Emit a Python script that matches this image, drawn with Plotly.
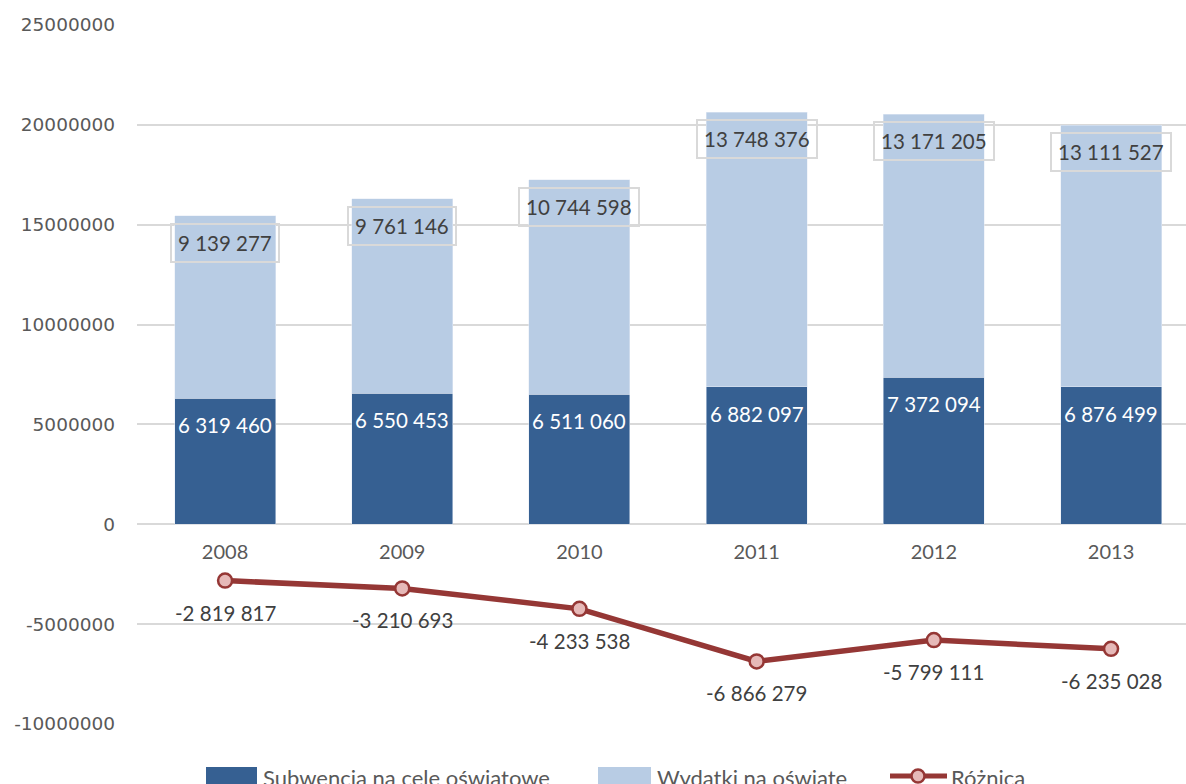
import plotly.graph_objects as go

# Dane: subwencja oświatowa i wydatki na oświatę (zł)
years = ["2008", "2009", "2010", "2011", "2012", "2013"]
subwencja = [6319460, 6550453, 6511060, 6882097, 7372094, 6876499]
wydatki = [9139277, 9761146, 10744598, 13748376, 13171205, 13111527]
roznica = [-2819817, -3210693, -4233538, -6866279, -5799111, -6235028]

names = ["Subwencja na cele oświatowe", "Wydatki na oświatę", "Różnica"]
y_ticks = [-10000000, -5000000, 0, 5000000, 10000000, 15000000, 20000000, 25000000]

DARK = "#366092"
LIGHT = "#b8cce4"
RED = "#953735"
PINK = "#e6b9b8"
GRID = "#d9d9d9"
TXT = "#404040"
AX = "#595959"
LABEL_FONT = "Lato"

W, H = 1186, 784
ML, MR, MT, MB = 137, 0, 25, 60


def fmt(v):
    return f"{v:,}".replace(",", " ")


def px_x(px):
    return (px - ML) / (W - ML - MR)


def px_y(py):
    return (H - MB - py) / (H - MT - MB)


fig = go.Figure()

fig.add_trace(go.Bar(x=years, y=subwencja, name=names[0], marker_color=DARK,
                     width=0.57, showlegend=False))
fig.add_trace(go.Bar(x=years, y=wydatki, name=names[1], marker_color=LIGHT,
                     width=0.57, showlegend=False))
fig.add_trace(go.Scatter(x=years, y=roznica, name=names[2], mode="lines+markers",
                         line=dict(color=RED, width=5.5),
                         marker=dict(size=14, color=PINK, line=dict(color=RED, width=2.5)),
                         showlegend=False))

# Etykiety danych (pozycja kategorii podana indeksem)
annotations = []
for i, (s, w, d) in enumerate(zip(subwencja, wydatki, roznica)):
    annotations.append(dict(x=i, y=s, yshift=-27, text=fmt(s), showarrow=False,
                            yanchor="middle", font=dict(family=LABEL_FONT, size=20.5, color="white")))
    annotations.append(dict(x=i, y=s + w, yshift=-27, text=fmt(w), showarrow=False,
                            yanchor="middle", bordercolor=GRID, borderwidth=2, borderpad=6,
                            font=dict(family=LABEL_FONT, size=20.5, color=TXT)))
    annotations.append(dict(x=i, y=d, yshift=-32, text=fmt(d), showarrow=False,
                            yanchor="middle", font=dict(family=LABEL_FONT, size=20.5, color=TXT)))

# Legenda pod wykresem
shapes = []
legend_y = 776
shapes.append(dict(type="rect", xref="paper", yref="paper", x0=px_x(206), x1=px_x(257),
                   y0=px_y(786), y1=px_y(767), fillcolor=DARK, line=dict(width=0), layer="above"))
shapes.append(dict(type="rect", xref="paper", yref="paper", x0=px_x(598), x1=px_x(651),
                   y0=px_y(786), y1=px_y(767), fillcolor=LIGHT, line=dict(width=0), layer="above"))
shapes.append(dict(type="line", xref="paper", yref="paper", x0=px_x(890), x1=px_x(947),
                   y0=px_y(legend_y), y1=px_y(legend_y), line=dict(color=RED, width=5), layer="above"))
shapes.append(dict(type="circle", xref="paper", yref="paper", x0=px_x(911.5), x1=px_x(924.5),
                   y0=px_y(legend_y + 6.5), y1=px_y(legend_y - 6.5), fillcolor=PINK,
                   line=dict(color=RED, width=2.5), layer="above"))
for name, x0 in zip(names, [261, 655, 949]):
    annotations.append(dict(xref="paper", yref="paper", x=px_x(x0), y=px_y(legend_y + 1),
                            xanchor="left", yanchor="middle", text=name, showarrow=False,
                            font=dict(family=LABEL_FONT, size=22, color=AX)))

fig.update_layout(
    width=W, height=H,
    margin=dict(l=ML, r=MR, t=MT, b=MB),
    paper_bgcolor="white", plot_bgcolor="white",
    barmode="stack",
    showlegend=False,
    annotations=annotations,
    shapes=shapes,
    xaxis=dict(type="category", range=[-0.497, 5.423], anchor="free", position=10 / 35,
               showline=False, showgrid=False, ticks="", ticklabelstandoff=14,
               tickfont=dict(family=LABEL_FONT, size=20, color=AX)),
    yaxis=dict(range=[-10000000, 25000000], tickvals=y_ticks,
               ticktext=[str(v) for v in y_ticks],
               showgrid=True, gridcolor=GRID, gridwidth=1.5,
               zeroline=True, zerolinecolor=GRID, zerolinewidth=1.5,
               showline=False, ticks="", ticklabelstandoff=21,
               tickfont=dict(family="DejaVu Sans", size=18.5, color=AX)),
)

fig.write_html("out.html")
